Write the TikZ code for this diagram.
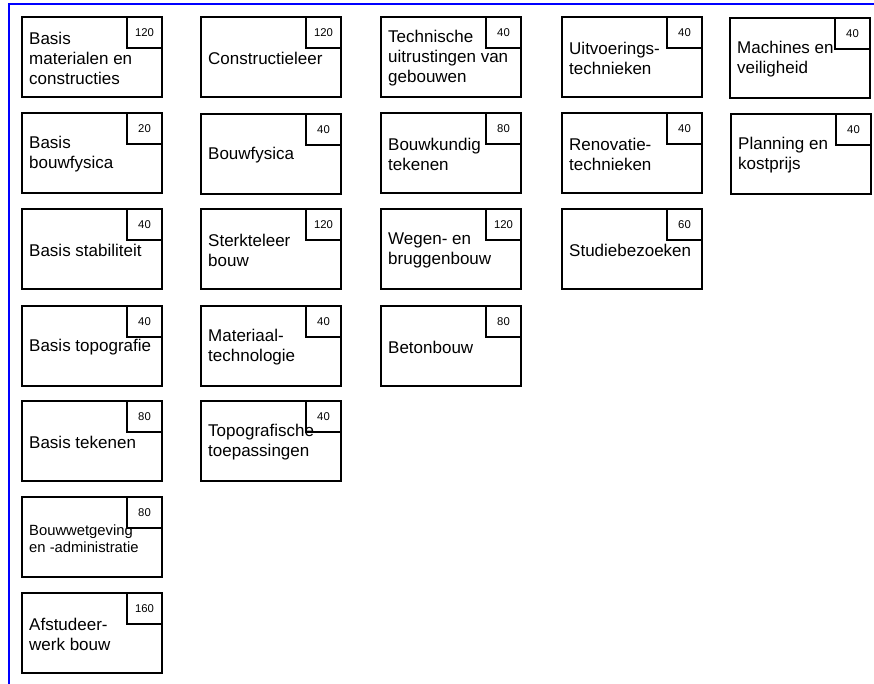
\documentclass[tikz,border=0pt]{standalone}
\usepackage{fontspec}
\setmainfont{Liberation Sans}
\begin{document}
\begin{tikzpicture}[x=1pt,y=-1pt,
  course/.style={draw=black,line width=1.2pt,minimum width=140pt,minimum height=80pt,inner sep=0pt,outer sep=0pt},
  numbox/.style={draw=black,line width=1.2pt,minimum width=35pt,minimum height=31pt,inner sep=0pt,outer sep=0pt,font=\fontsize{11.3}{13}\selectfont,anchor=north east},
  lbl/.style={anchor=west,align=left,inner sep=0pt,font=\fontsize{17}{20}\selectfont},
  lblsmall/.style={anchor=west,align=left,inner sep=0pt,font=\fontsize{14.8}{17.5}\selectfont},
  frame/.style={draw=blue,line width=1.1pt}]
\useasboundingbox (0,0) rectangle (874,684);
\coordinate (fa) at (9,684);
\coordinate (fb) at (9,4);
\coordinate (fc) at (874,4);
\draw[frame] (fa) -- (fb) -- (fc);
\newcommand\cbox[6][lbl]{%
  \node[course] (#2) at (#3+70,#4+40) {};
  \node[numbox] (#2n) at (#2.north east) {#5};
  \node[#1] (#2t) at ([xshift=7pt,yshift=-1.5pt]#2.west) {#6};
}
% column 1
\cbox{a1}{22}{17}{120}{Basis\\materialen en\\constructies}
\cbox{a2}{22}{113}{20}{Basis\\bouwfysica}
\cbox{a3}{22}{209}{40}{Basis stabiliteit}
\cbox{a4}{22}{306}{40}{Basis topografie}
\cbox{a5}{22}{401}{80}{Basis tekenen}
\cbox[lblsmall]{a6}{22}{497}{80}{Bouwwetgeving\\en -administratie}
\cbox{a7}{22}{593}{160}{Afstudeer-\\werk bouw}
% column 2
\cbox{b1}{201}{17}{120}{Constructieleer}
\cbox{b2}{201}{114}{40}{Bouwfysica}
\cbox{b3}{201}{209}{120}{Sterkteleer\\bouw}
\cbox{b4}{201}{306}{40}{Materiaal-\\technologie}
\cbox{b5}{201}{401}{40}{Topografische\\toepassingen}
% column 3
\cbox{c1}{381}{17}{40}{Technische\\uitrustingen van\\gebouwen}
\cbox{c2}{381}{113}{80}{Bouwkundig\\tekenen}
\cbox{c3}{381}{209}{120}{Wegen- en\\bruggenbouw}
\cbox{c4}{381}{306}{80}{Betonbouw}
% column 4
\cbox{d1}{562}{17}{40}{Uitvoerings-\\technieken}
\cbox{d2}{562}{113}{40}{Renovatie-\\technieken}
\cbox{d3}{562}{209}{60}{Studiebezoeken}
% column 5
\cbox{e1}{730}{18}{40}{Machines en\\veiligheid}
\cbox{e2}{731}{114}{40}{Planning en\\kostprijs}
\end{tikzpicture}
\end{document}
